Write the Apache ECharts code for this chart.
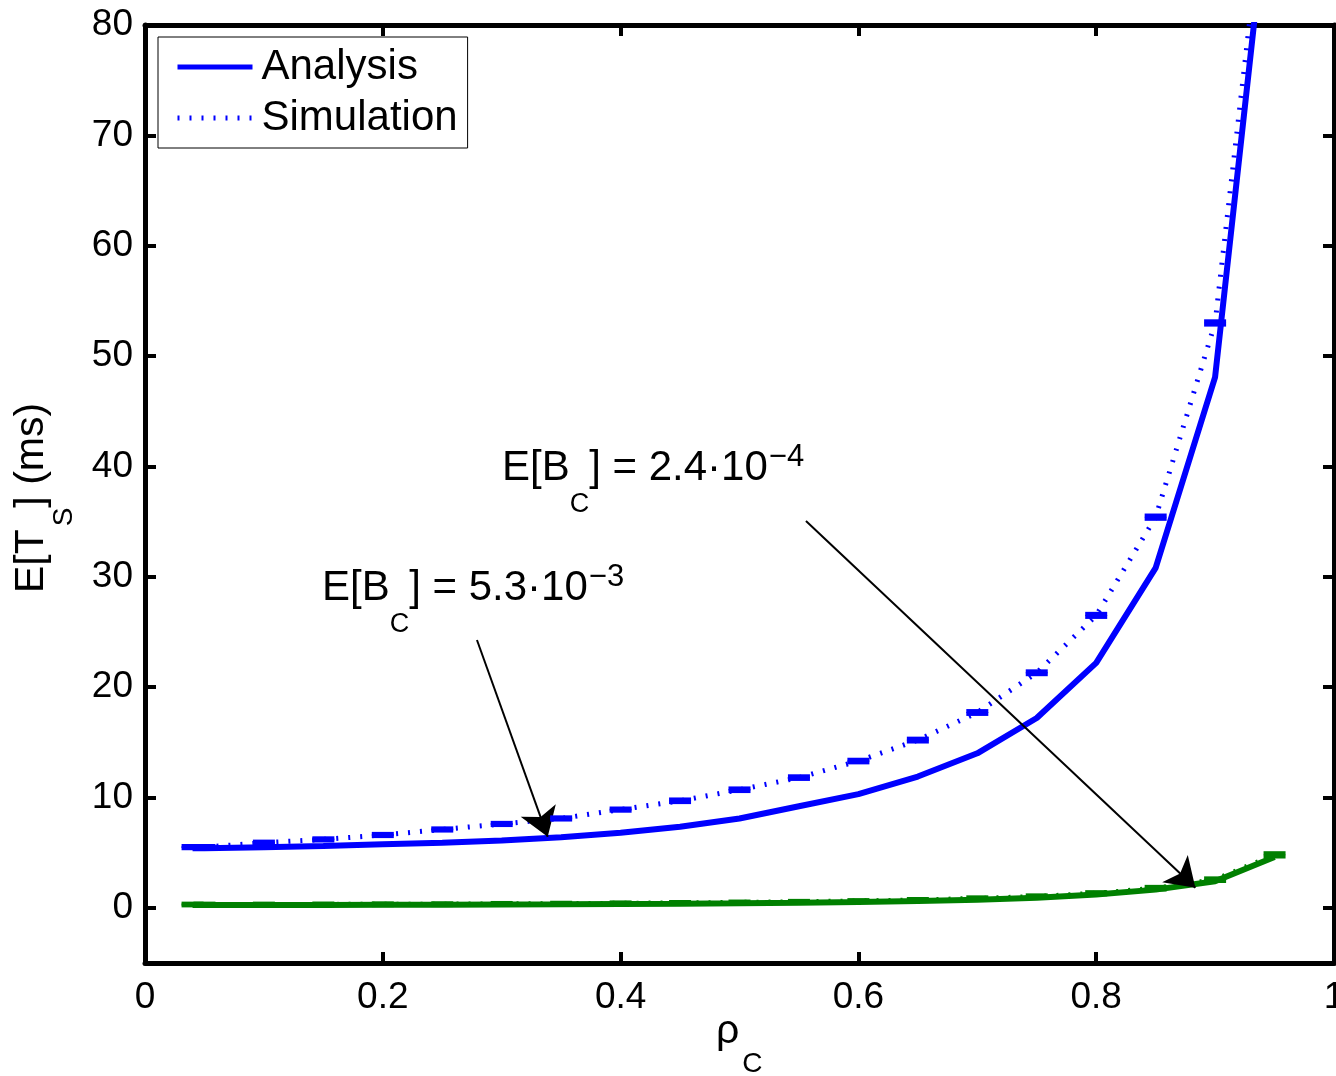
<!DOCTYPE html>
<html>
<head>
<meta charset="utf-8">
<script src="https://cdn.jsdelivr.net/npm/echarts@6/dist/echarts.min.js"></script>
<style>
html,body{margin:0;padding:0;background:#fff;}
#chart{width:1336px;height:1076px;}
</style>
</head>
<body>
<div id="chart"></div>
<script>
// ---- data ----
const rho = [0.04, 0.05, 0.10, 0.15, 0.20, 0.25, 0.30, 0.35, 0.40, 0.45, 0.50, 0.55, 0.60, 0.65, 0.70, 0.75, 0.80, 0.85, 0.90, 0.95];
// E[B_C] = 5.3e-3 (blue)
const analysisHigh   = [5.4, 5.4, 5.5, 5.6, 5.75, 5.9, 6.1, 6.4, 6.8, 7.35, 8.1, 9.2, 10.3, 11.9, 14.0, 17.2, 22.2, 30.8, 48.1, 97];
const simulationHigh = [5.5, 5.5, 5.9, 6.2, 6.6, 7.1, 7.6, 8.1, 8.9, 9.7, 10.7, 11.8, 13.3, 15.2, 17.7, 21.3, 26.5, 35.4, 53.0, 100];
const errHigh        = [0.1, 0.1, 0.1, 0.1, 0.1, 0.1, 0.1, 0.1, 0.1, 0.12, 0.12, 0.12, 0.12, 0.13, 0.13, 0.13, 0.14, 0.15, 0.15, 0.2];
// E[B_C] = 2.4e-4 (green)
const analysisLow    = [0.25, 0.25, 0.25, 0.26, 0.27, 0.28, 0.30, 0.32, 0.35, 0.38, 0.42, 0.47, 0.53, 0.62, 0.74, 0.92, 1.2, 1.65, 2.4, 4.6];
const simulationLow  = [0.3, 0.3, 0.3, 0.31, 0.32, 0.33, 0.36, 0.38, 0.41, 0.45, 0.49, 0.55, 0.62, 0.72, 0.85, 1.03, 1.32, 1.78, 2.55, 4.8];
const errLow         = [0.08, 0.08, 0.08, 0.08, 0.08, 0.08, 0.08, 0.08, 0.08, 0.08, 0.08, 0.08, 0.08, 0.08, 0.1, 0.1, 0.1, 0.12, 0.12, 0.15];
// tick labels
const xTicks = [0, 0.2, 0.4, 0.6, 0.8, 1];
const yTicks = [0, 10, 20, 30, 40, 50, 60, 70, 80];
// annotation arrows: [start, tip] in data units
const arrowHigh = [[0.2792, 24.27], [0.3387, 6.43]];
const arrowLow  = [[0.5559, 35.05], [0.8834, 1.81]];

const FONT = "'Liberation Sans', Arial, Helvetica, sans-serif";
const BLUE = '#0000ff';
const GREEN = '#008000';

const chart = echarts.init(document.getElementById('chart'), null, {renderer: 'canvas'});

function pairs(xs, ys) { return xs.map((x, i) => [x, ys[i]]); }
function errData(xs, ys, es) { return xs.map((x, i) => [x, ys[i] - es[i], ys[i] + es[i]]); }

function renderErr(params, api) {
  const x = api.value(0), lo = api.value(1), hi = api.value(2);
  const pLo = api.coord([x, lo]);
  const pHi = api.coord([x, hi]);
  const hw = 11;
  const st = {stroke: api.visual('color'), lineWidth: 4};
  return {
    type: 'group',
    children: [
      {type: 'line', shape: {x1: pLo[0], y1: pLo[1], x2: pHi[0], y2: pHi[1]}, style: st},
      {type: 'line', shape: {x1: pLo[0] - hw, y1: pLo[1], x2: pLo[0] + hw, y2: pLo[1]}, style: st},
      {type: 'line', shape: {x1: pHi[0] - hw, y1: pHi[1], x2: pHi[0] + hw, y2: pHi[1]}, style: st}
    ]
  };
}

const axisLineStyle = {color: '#000', width: 5};
const tickStyle = {color: '#000', width: 4};

const rich = {
  b: {fontSize: 42, lineHeight: 42, padding: [5, 0, 0, 0], verticalAlign: 'top', fontFamily: FONT, color: '#000'},
  s: {fontSize: 27, lineHeight: 27, padding: [49, 0, 0, 0], verticalAlign: 'top', fontFamily: FONT, color: '#000'},
  p: {fontSize: 31, lineHeight: 31, padding: [0, 0, 0, 1], verticalAlign: 'top', fontFamily: FONT, color: '#000'}
};
const richAxis = {
  b: {fontSize: 41, lineHeight: 41, padding: [3, 0, 0, 0], verticalAlign: 'top', fontFamily: FONT, color: '#000'},
  s: {fontSize: 28, lineHeight: 28, padding: [42, 0, 0, 3], verticalAlign: 'top', fontFamily: FONT, color: '#000'}
};

const option = {
  backgroundColor: '#fff',
  animation: false,
  grid: {left: 145, right: 2, top: 25, bottom: 113, containLabel: false, outerBoundsMode: 'none'},
  xAxis: [
    {
      type: 'value', min: 0, max: 1, interval: 0.2, position: 'bottom',
      axisLine: {show: true, onZero: false, lineStyle: axisLineStyle},
      axisTick: {show: true, inside: true, length: 11, lineStyle: tickStyle},
      axisLabel: {show: true, fontSize: 37, color: '#000', fontFamily: FONT, margin: 16,
                  customValues: xTicks, formatter: v => String(+v.toFixed(1))},
      splitLine: {show: false}
    },
    {
      type: 'value', min: 0, max: 1, interval: 0.2, position: 'top',
      axisLine: {show: true, onZero: false, lineStyle: axisLineStyle},
      axisTick: {show: true, inside: true, length: 11, lineStyle: tickStyle},
      axisLabel: {show: false},
      splitLine: {show: false}
    }
  ],
  yAxis: [
    {
      type: 'value', min: -5, max: 80, position: 'left',
      axisLine: {show: true, onZero: false, lineStyle: axisLineStyle},
      axisTick: {show: true, inside: true, length: 11, lineStyle: tickStyle, customValues: yTicks},
      axisLabel: {show: true, fontSize: 37, color: '#000', fontFamily: FONT, margin: 12, customValues: yTicks},
      splitLine: {show: false}
    },
    {
      type: 'value', min: -5, max: 80, position: 'right',
      axisLine: {show: true, onZero: false, lineStyle: axisLineStyle},
      axisTick: {show: true, inside: true, length: 11, lineStyle: tickStyle, customValues: yTicks},
      axisLabel: {show: false},
      splitLine: {show: false}
    }
  ],
  legend: {
    show: true,
    orient: 'vertical',
    left: 158, top: 37,
    padding: [9, 10, 9, 17],
    itemGap: 9,
    itemWidth: 75,
    itemHeight: 42,
    backgroundColor: '#fff',
    borderColor: '#000',
    borderWidth: 1,
    borderRadius: 0,
    selectedMode: false,
    textStyle: {fontSize: 42, lineHeight: 42, color: '#000', fontFamily: FONT, padding: [0, 0, 0, 4]},
    data: [
      {name: 'Analysis', itemStyle: {opacity: 0}, lineStyle: {color: BLUE, width: 5, type: 'solid'}},
      {name: 'Simulation', itemStyle: {opacity: 0}, lineStyle: {color: BLUE, width: 5, type: [2, 10], cap: 'butt'}}
    ],
    z: 20
  },
  series: [
    {
      name: 'Analysis', type: 'line', data: pairs(rho, analysisHigh),
      symbol: 'none', clip: true, z: 3,
      lineStyle: {color: BLUE, width: 6},
      itemStyle: {color: BLUE},
      markLine: {
        silent: true, animation: false,
        symbol: ['none', 'arrow'], symbolSize: 28,
        label: {show: false},
        lineStyle: {color: '#000', width: 2, type: 'solid'},
        data: [
          [{coord: arrowHigh[0]}, {coord: arrowHigh[1]}],
          [{coord: arrowLow[0]}, {coord: arrowLow[1]}]
        ]
      }
    },
    {
      name: 'Simulation', type: 'line', data: pairs(rho, simulationHigh),
      symbol: 'none', clip: true, z: 4,
      lineStyle: {color: BLUE, width: 5, type: [2, 10], cap: 'butt'},
      itemStyle: {color: BLUE}
    },
    {
      name: 'Simulation error (high)', type: 'custom', data: errData(rho, simulationHigh, errHigh),
      renderItem: renderErr, encode: {x: 0, y: [1, 2]}, clip: true, z: 5,
      itemStyle: {color: BLUE}
    },
    {
      name: 'Analysis (low)', type: 'line', data: pairs(rho, analysisLow),
      symbol: 'none', clip: true, z: 3,
      lineStyle: {color: GREEN, width: 6},
      itemStyle: {color: GREEN}
    },
    {
      name: 'Simulation (low)', type: 'line', data: pairs(rho, simulationLow),
      symbol: 'none', clip: true, z: 4,
      lineStyle: {color: GREEN, width: 5, type: [2, 10], cap: 'butt'},
      itemStyle: {color: GREEN}
    },
    {
      name: 'Simulation error (low)', type: 'custom', data: errData(rho, simulationLow, errLow),
      renderItem: renderErr, encode: {x: 0, y: [1, 2]}, clip: true, z: 5,
      itemStyle: {color: GREEN}
    }
  ],
  graphic: [
    {
      type: 'text', x: 322, y: 562, z: 30,
      style: {text: '{b|E[B}{s|C}{b|] = 5.3·10}{p|−3}', rich: rich, align: 'left', verticalAlign: 'top', fill: '#000'}
    },
    {
      type: 'text', x: 502, y: 442, z: 30,
      style: {text: '{b|E[B}{s|C}{b|] = 2.4·10}{p|−4}', rich: rich, align: 'left', verticalAlign: 'top', fill: '#000'}
    },
    {
      type: 'text', x: 8, y: 498, rotation: Math.PI / 2, z: 30,
      style: {text: '{b|E[T}{s|S}{b|] (ms)}', rich: richAxis, align: 'center', verticalAlign: 'top', fill: '#000'}
    },
    {
      type: 'text', x: 716, y: 1008, z: 30,
      style: {text: '{b|ρ}{s|C}', rich: richAxis, align: 'left', verticalAlign: 'top', fill: '#000'}
    }
  ]
};

chart.setOption(option);
</script>
</body>
</html>
